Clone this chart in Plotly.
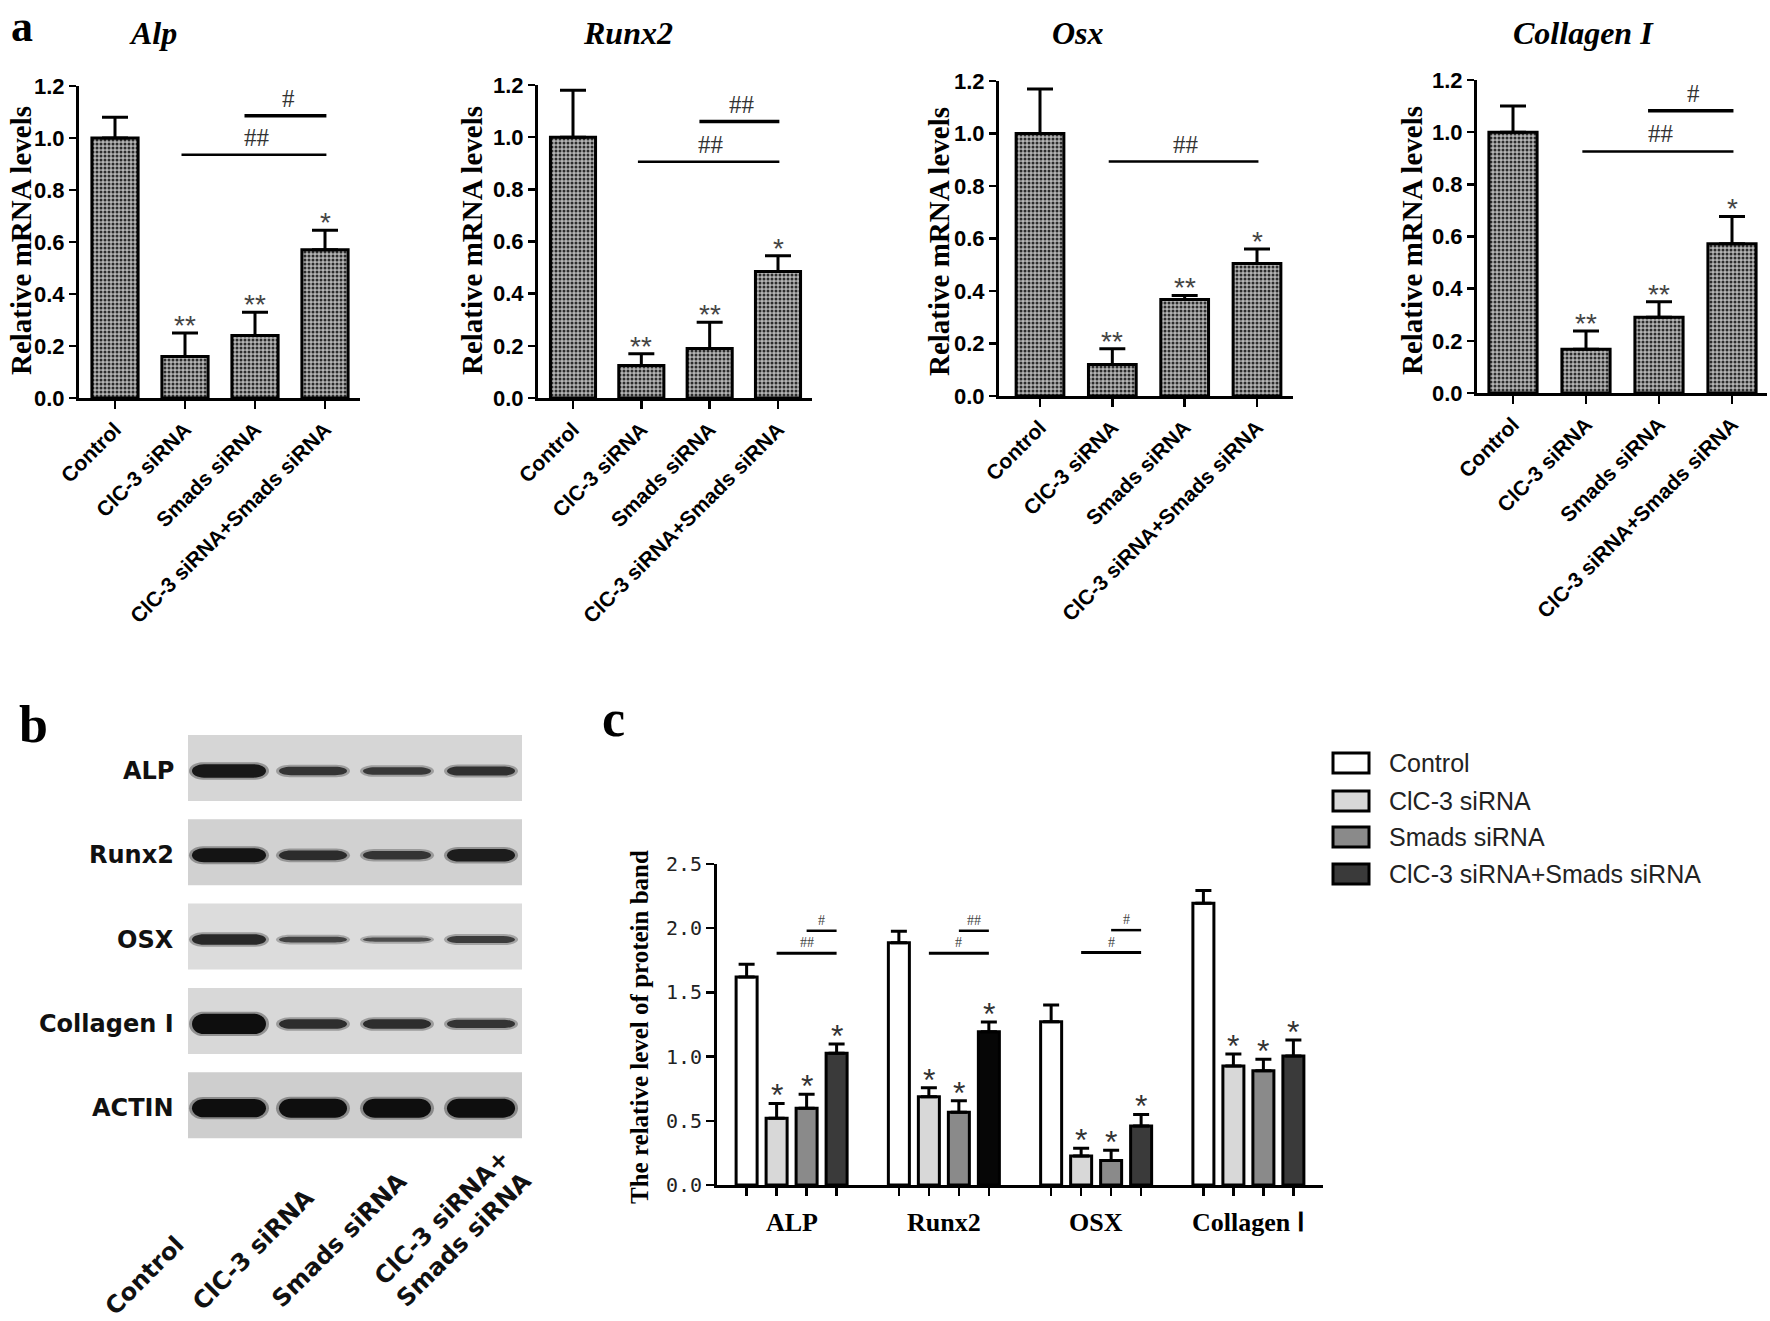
import plotly.graph_objects as go

W, H = 1770, 1321

# ---------------- data ----------------
groups = ["Control", "ClC-3 siRNA", "Smads siRNA", "ClC-3 siRNA+Smads siRNA"]

# panel a : relative mRNA levels
mrna_genes = ["Alp", "Runx2", "Osx", "Collagen I"]
alp_mrna = [1.0, 0.16, 0.24, 0.57]
alp_mrna_err = [0.08, 0.09, 0.09, 0.075]
runx2_mrna = [1.0, 0.125, 0.19, 0.485]
runx2_mrna_err = [0.18, 0.045, 0.10, 0.06]
osx_mrna = [1.0, 0.12, 0.368, 0.505]
osx_mrna_err = [0.17, 0.06, 0.015, 0.055]
col_mrna = [1.0, 0.168, 0.29, 0.572]
col_mrna_err = [0.10, 0.07, 0.06, 0.105]
mrna_stars = ["", "**", "**", "*"]
# significance brackets: (from group, to group, level, label)
alp_brackets = [(2, 3, 1.086, "#"), (1, 3, 0.936, "##")]
runx2_brackets = [(2, 3, 1.06, "##"), (1, 3, 0.906, "##")]
osx_brackets = [(1, 3, 0.893, "##")]
col_brackets = [(2, 3, 1.082, "#"), (1, 3, 0.926, "##")]

# panel b : western blot band intensities (arbitrary units)
blot_rows = ["ALP", "Runx2", "OSX", "Collagen Ⅰ", "ACTIN"]
band_alp = [0.95, 0.6, 0.55, 0.65]
band_runx2 = [1.0, 0.7, 0.6, 0.9]
band_osx = [0.75, 0.42, 0.3, 0.5]
band_col = [1.45, 0.68, 0.68, 0.6]
band_actin = [1.3, 1.35, 1.35, 1.35]
blot_lanes = ["Control", "ClC-3 siRNA", "Smads siRNA", "ClC-3 siRNA+<br>Smads siRNA"]

# panel c : relative protein levels
proteins = ["ALP", "Runx2", "OSX", "Collagen Ⅰ"]
prot_control = [1.62, 1.887, 1.272, 2.194]
prot_control_err = [0.10, 0.09, 0.13, 0.10]
prot_clc = [0.52, 0.688, 0.226, 0.927]
prot_clc_err = [0.115, 0.07, 0.06, 0.093]
prot_smads = [0.597, 0.566, 0.19, 0.89]
prot_smads_err = [0.11, 0.09, 0.08, 0.09]
prot_combo = [1.026, 1.194, 0.46, 1.005]
prot_combo_err = [0.072, 0.075, 0.09, 0.125]
prot_stars = ["", "*", "*", "*"]
# brackets: (group, from bar, to bar, level, label)
prot_brackets = [(0, 2, 3, 1.98, "#"), (0, 1, 3, 1.805, "##"),
                 (1, 2, 3, 1.98, "##"), (1, 1, 3, 1.805, "#"),
                 (2, 2, 3, 1.985, "#"), (2, 1, 3, 1.81, "#")]

# ---------------- helpers ----------------
def px(x):
    return x / W

def py(y):
    return 1 - y / H

fig = go.Figure()
annotations = []
shapes = []
layout = {}

SERIF = "Liberation Serif, Times New Roman, serif"
SANS = "Liberation Sans, Arial, sans-serif"


def ann(**kw):
    kw.setdefault("xanchor", "center")
    kw.setdefault("yanchor", "middle")
    kw.setdefault("showarrow", False)
    annotations.append(kw)


# ---------------- panel a ----------------
mrna_means = [alp_mrna, runx2_mrna, osx_mrna, col_mrna]
mrna_errs = [alp_mrna_err, runx2_mrna_err, osx_mrna_err, col_mrna_err]
mrna_brackets = [alp_brackets, runx2_brackets, osx_brackets, col_brackets]
# frame geometry: (y-axis x, x-axis end, first bar centre, last bar centre, top y, bottom y, title x, ytitle x)
a_frames = [
    (79, 360, 115, 325, 86, 398, 153, 21),
    (538, 812, 573, 778, 85, 398, 628, 472),
    (999, 1293, 1040, 1257, 81, 396, 1078, 939),
    (1477, 1767, 1513, 1732, 80, 393, 1583, 1412),
]

for k in range(4):
    ax_x, ax_end, c0, c3, ytop, ybot, tx, ytx = a_frames[k]
    pitch = (c3 - c0) / 3
    sfx = "" if k == 0 else str(k + 1)
    xa, ya = "x" + sfx, "y" + sfx
    fig.add_trace(go.Bar(
        x=groups, y=mrna_means[k], xaxis=xa, yaxis=ya, width=0.66,
        marker=dict(color="#a8a8a8",
                    pattern=dict(shape=".", fgcolor="#2c2c2c", bgcolor="#b4b4b4",
                                 size=4, solidity=0.45, fillmode="replace"),
                    line=dict(color="black", width=3)),
        error_y=dict(type="data", array=mrna_errs[k], arrayminus=[0] * 4,
                     symmetric=False, thickness=3, width=13, color="black"),
        showlegend=False, hoverinfo="skip"))
    layout["xaxis" + sfx] = dict(
        domain=[px(ax_x), px(ax_end)], anchor=ya, automargin=False,
        range=[-(c0 - ax_x) / pitch, 3 + (ax_end - c3) / pitch],
        showline=True, linewidth=3, linecolor="black", ticks="outside",
        ticklen=8, tickwidth=2.5, tickcolor="black", tickangle=-45,
        tickfont=dict(family=SANS, size=21, color="black", weight="bold"),
        showgrid=False, zeroline=False, fixedrange=True)
    layout["yaxis" + sfx] = dict(
        domain=[py(ybot), py(ytop)], anchor=xa, range=[0, 1.2], automargin=False,
        tickvals=[0, 0.2, 0.4, 0.6, 0.8, 1.0, 1.2], tickformat=".1f",
        showline=True, linewidth=3, linecolor="black", ticks="outside",
        ticklen=7, tickwidth=2.5, tickcolor="black",
        tickfont=dict(family=SANS, size=22, color="black", weight="bold"),
        showgrid=False, zeroline=False, fixedrange=True)
    # gene title
    ann(x=px(tx), y=py(33), xref="paper", yref="paper", text=mrna_genes[k],
        font=dict(family=SERIF, size=32, color="black", weight="bold", style="italic"))
    # y title
    ann(x=px(ytx), y=py(241), xref="paper", yref="paper",
        text="Relative mRNA levels", textangle=-90,
        font=dict(family=SERIF, size=29, color="black", weight="bold"))
    # stars
    for i in range(4):
        if mrna_stars[i]:
            ann(x=i, y=mrna_means[k][i] + mrna_errs[k][i], xref=xa, yref=ya,
                yanchor="bottom", yshift=-10, text=mrna_stars[i],
                font=dict(family=SANS, size=28, color="#444"))
    # brackets
    for (g0, g1, lvl, lab) in mrna_brackets[k]:
        x0 = g0 - (0.15 if g1 - g0 == 1 else 0.05)
        shapes.append(dict(type="line", xref=xa, yref=ya, x0=x0, x1=g1 + 0.02,
                           y0=lvl, y1=lvl,
                           line=dict(color="black", width=3.5 if g1 - g0 == 1 else 2.5)))
        ann(x=(x0 + g1) / 2 + 0.05, y=lvl, xref=xa, yref=ya,
            yanchor="bottom", yshift=2, text=lab,
            font=dict(family=SERIF, size=25, color="#333"))

# panel letter "a" (box kept inside the page)
ann(x=px(22), y=1, xref="paper", yref="paper", yanchor="top", text="a",
    font=dict(family=SERIF, size=44, color="black", weight="bold"))

# ---------------- panel b : western blot ----------------
band_rows = [band_alp, band_runx2, band_osx, band_col, band_actin]
box_colors = ["#d6d6d6", "#d1d1d1", "#dcdcdc", "#d8d8d8", "#cecece"]
blot_x0, blot_x1 = 188, 522
row_top0, row_pitch, row_h = 735, 84.3, 66
lane_c0, lane_pitch = 229, 84


def pill(cx, cy, w, h, rx):
    ry = h / 2
    x0, x1 = cx - w / 2 + rx, cx + w / 2 - rx
    t, b = cy - ry, cy + ry
    k = 0.5523
    pts = [("M", [(x0, t)]), ("L", [(x1, t)]),
           ("C", [(x1 + k * rx, t), (x1 + rx, cy - k * ry), (x1 + rx, cy)]),
           ("C", [(x1 + rx, cy + k * ry), (x1 + k * rx, b), (x1, b)]),
           ("L", [(x0, b)]),
           ("C", [(x0 - k * rx, b), (x0 - rx, cy + k * ry), (x0 - rx, cy)]),
           ("C", [(x0 - rx, cy - k * ry), (x0 - k * rx, t), (x0, t)])]
    s = ""
    for cmd, ps in pts:
        s += cmd + " ".join(f"{px(a):.5f},{py(c):.5f}" for a, c in ps) + " "
    return s + "Z"


for r in range(5):
    top = row_top0 + r * row_pitch
    shapes.append(dict(type="rect", xref="paper", yref="paper",
                       x0=px(blot_x0), x1=px(blot_x1), y0=py(top + row_h), y1=py(top),
                       fillcolor=box_colors[r], line=dict(width=0), layer="below"))
    cy = top + 36
    ann(x=px(176), y=py(cy), xref="paper", yref="paper", xanchor="right",
        text=blot_rows[r],
        font=dict(family="DejaVu Sans, sans-serif", size=24, color="#111", weight="bold"))
    for l in range(4):
        inten = band_rows[r][l]
        h = 14 * inten
        w = 74 if l == 0 else 68
        lev = int(max(14, min(110, 100 - 80 * inten)))
        col = f"rgb({lev},{lev},{lev})"
        cx = lane_c0 + l * lane_pitch
        shapes.append(dict(type="path", xref="paper", yref="paper",
                           path=pill(cx, cy, w + 6, h + 4, 14), fillcolor=col,
                           opacity=0.35, line=dict(width=0)))
        shapes.append(dict(type="path", xref="paper", yref="paper",
                           path=pill(cx, cy, w, h, 12), fillcolor=col,
                           line=dict(width=0)))

lane_label_pos = [(192, 1228), (322, 1181), (415, 1164), (540, 1142)]
for l in range(4):
    lx, ly = lane_label_pos[l]
    ann(x=px(lx), y=py(ly), xref="paper", yref="paper",
        xanchor="right", yanchor="top", textangle=-45, align="left",
        text=blot_lanes[l],
        font=dict(family="DejaVu Sans, sans-serif", size=24, color="#111", weight="bold"))

ann(x=px(33), y=py(725), xref="paper", yref="paper", text="b",
    font=dict(family=SERIF, size=52, color="black", weight="bold"))

# ---------------- panel c ----------------
c_means = [prot_control, prot_clc, prot_smads, prot_combo]
c_errs = [prot_control_err, prot_clc_err, prot_smads_err, prot_combo_err]
c_colors = [["#ffffff"] * 4, ["#d8d8d8"] * 4, ["#8a8a8a"] * 4,
            ["#3a3a3a", "#060606", "#3a3a3a", "#3a3a3a"]]
slot = 0.197
barw = 0.138
all_pos = []
for j in range(4):
    xs = [g + (j - 1.5) * slot for g in range(4)]
    all_pos += xs
    fig.add_trace(go.Bar(
        x=xs, y=c_means[j], xaxis="x5", yaxis="y5", width=barw,
        marker=dict(color=c_colors[j], line=dict(color="black", width=3)),
        error_y=dict(type="data", array=c_errs[j], arrayminus=[0] * 4,
                     symmetric=False, thickness=3, width=8, color="black"),
        name=groups[j], showlegend=False, hoverinfo="skip"))
    for g in range(4):
        if prot_stars[j]:
            ann(x=xs[g], y=c_means[j][g] + c_errs[j][g], xref="x5", yref="y5",
                yanchor="bottom", yshift=-12, text=prot_stars[j],
                font=dict(family=SANS, size=32, color="#333"))

for (g, b0, b1, lvl, lab) in prot_brackets:
    x0 = g + (b0 - 1.5) * slot
    x1 = g + (b1 - 1.5) * slot
    shapes.append(dict(type="line", xref="x5", yref="y5", x0=x0, x1=x1, y0=lvl,
                       y1=lvl, line=dict(color="black", width=3 if b1 - b0 > 1 else 2.5)))
    ann(x=(x0 + x1) / 2, y=lvl, xref="x5", yref="y5", yanchor="bottom", yshift=1,
        text=lab, font=dict(family=SERIF, size=14, color="#444"))

for g in range(4):
    ann(x=g, y=py(1222), xref="x5", yref="paper", text=proteins[g],
        font=dict(family=SERIF, size=26, color="black", weight="bold"))

layout["xaxis5"] = dict(domain=[px(717), px(1323)], anchor="y5", range=[-0.49, 3.49],
                        tickvals=all_pos, ticktext=[""] * len(all_pos), automargin=False,
                        showline=True, linewidth=3, linecolor="black",
                        ticks="outside", ticklen=8, tickwidth=2.5, tickcolor="black",
                        showgrid=False, zeroline=False, fixedrange=True)
layout["yaxis5"] = dict(domain=[py(1185), py(864)], anchor="x5", range=[0, 2.5],
                        tickvals=[0, 0.5, 1.0, 1.5, 2.0, 2.5], tickformat=".1f",
                        automargin=False,
                        showline=True, linewidth=3, linecolor="black",
                        ticks="outside", ticklen=8, tickwidth=2.5, tickcolor="black",
                        tickfont=dict(family="DejaVu Sans Mono, monospace", size=20,
                                      color="#222"),
                        showgrid=False, zeroline=False, fixedrange=True)

ann(x=px(639), y=py(1027), xref="paper", yref="paper",
    text="The relative level of protein band", textangle=-90,
    font=dict(family=SERIF, size=25, color="black", weight="bold"))
ann(x=px(613), y=py(718), xref="paper", yref="paper", text="c",
    font=dict(family=SERIF, size=52, color="black", weight="bold"))

# legend for panel c
leg_y = [763, 801, 837, 874]
for j in range(4):
    shapes.append(dict(type="rect", xref="paper", yref="paper",
                       x0=px(1333), x1=px(1369), y0=py(leg_y[j] + 10), y1=py(leg_y[j] - 10),
                       fillcolor=c_colors[j][0], line=dict(color="black", width=3)))
    ann(x=px(1387), y=py(leg_y[j]), xref="paper", yref="paper", xanchor="left",
        text=groups[j], font=dict(family=SANS, size=25, color="#222"))

fig.update_layout(
    template="none",
    width=W, height=H, margin=dict(l=0, r=0, t=0, b=0, autoexpand=False),
    paper_bgcolor="white", plot_bgcolor="white", showlegend=False,
    barmode="overlay", annotations=annotations, shapes=shapes, **layout)

fig.write_html("out.html",
               config={"displayModeBar": False, "staticPlot": True},
               post_script="document.body.style.margin='0';"
                           "document.body.style.overflow='hidden';")
